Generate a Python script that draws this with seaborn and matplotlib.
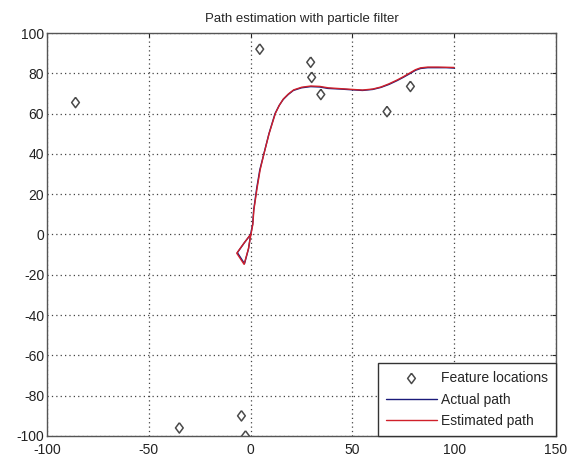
import matplotlib
matplotlib.use("Agg")
import matplotlib.pyplot as plt
import seaborn as sns
import pandas as pd

# Landmark positions
feature_x = [-86, 4.5, 29.5, 30, 34.5, 67, 78.5, -35, -4.5, -2.5]
feature_y = [65.5, 92, 85.5, 78, 69.5, 61, 73.5, -96, -90, -100]

# Ground-truth robot trajectory
actual_x = [0, -3, -6.5, -3, -1, 0, 1, 1.5, 3, 4.5, 6.5, 9, 12, 14, 16,
            18.5, 21, 25, 29.5, 34, 38, 44, 50, 55, 60, 64, 68, 72, 75,
            78.5, 81, 83.5, 87, 92, 96, 100]
actual_y = [0, -4, -9, -14.5, -7, 0, 5, 12, 23, 32, 40, 50, 60, 64, 67,
            69.5, 71.5, 72.8, 73.4, 73.2, 72.5, 72.2, 71.8, 71.5, 72, 73,
            74.5, 76.4, 78, 80, 81.5, 82.4, 82.8, 82.8, 82.8, 82.6]

# Particle filter estimate of the trajectory
est_x = [0, -3.2, -6.8, -3.2, -1.1, 0.2, 1.1, 1.6, 3.2, 4.7, 6.6, 9.1, 12.2,
         14.2, 16.1, 18.6, 21.2, 25.1, 29.6, 34, 38.1, 44, 50, 55, 60, 64,
         68, 72, 75, 78.4, 81, 83.4, 87, 92, 96, 100]
est_y = [0, -4.2, -9.3, -14.8, -7.2, 0.2, 5.1, 12.2, 23.1, 32.2, 40.2, 50.1,
         60.2, 64.3, 67.3, 69.8, 71.8, 73.1, 73.7, 73.5, 72.8, 72.4, 72,
         71.7, 72.2, 73.2, 74.8, 76.7, 78.3, 80.3, 81.8, 82.7, 83.1, 83.1,
         83, 82.9]

sns.set_style("white")
plt.rcParams["font.family"] = ["Liberation Sans", "DejaVu Sans"]
plt.rcParams["axes.unicode_minus"] = False

fig = plt.figure(figsize=(5.72, 4.65), dpi=100)
ax = fig.add_axes([0.0822, 0.0624, 0.8898, 0.8666])

features = pd.DataFrame({"x": feature_x, "y": feature_y})
actual = pd.DataFrame({"x": actual_x, "y": actual_y})
estimated = pd.DataFrame({"x": est_x, "y": est_y})

# slightly narrow open diamond
diamond = [(0, 1), (0.75, 0), (0, -1), (-0.75, 0), (0, 1)]

sns.scatterplot(data=features, x="x", y="y", ax=ax, marker=diamond, s=55,
                facecolor="none", edgecolor="#4a4a4a", linewidth=1.1,
                label="Feature locations", zorder=3)
sns.lineplot(data=actual, x="x", y="y", ax=ax, sort=False, estimator=None,
             color="#1a1a7a", linewidth=1.0, label="Actual path", zorder=2)
sns.lineplot(data=estimated, x="x", y="y", ax=ax, sort=False, estimator=None,
             color="#d0202a", linewidth=1.0, label="Estimated path", zorder=2)

ax.set_xlim(-100, 150)
ax.set_ylim(-100, 100)
ax.set_xticks([-100, -50, 0, 50, 100, 150])
ax.set_yticks(range(-100, 101, 20))
ax.set_xlabel("")
ax.set_ylabel("")
ax.set_title("Path estimation with particle filter", fontsize=9.5, pad=8)

ax.grid(True, linestyle=(0, (1, 2.5)), color="#444444", linewidth=0.9)
ax.tick_params(direction="in", length=3, labelsize=10, colors="#222222",
               top=True, right=True, pad=2)
ax.tick_params(axis="x", pad=5)
for sp in ax.spines.values():
    sp.set_color("#555555")
    sp.set_linewidth(1.0)

leg = ax.legend(loc="lower right", fontsize=10, frameon=True, fancybox=False,
                edgecolor="#333333", borderaxespad=0.0, handlelength=3.7,
                labelspacing=0.55, handletextpad=0.3, borderpad=0.55)
leg.get_frame().set_linewidth(1.0)
leg.get_frame().set_alpha(1.0)

fig.savefig("out.png", dpi=100)
